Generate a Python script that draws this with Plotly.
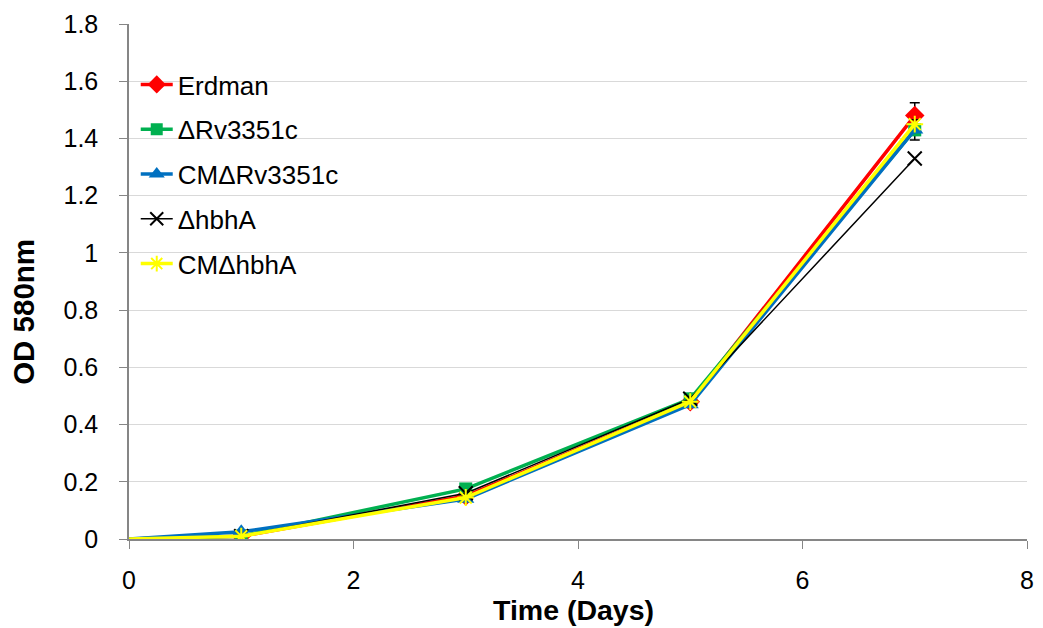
import plotly.graph_objects as go

days = [0, 1, 3, 5, 7]
names = ["Erdman", "ΔRv3351c", "CMΔRv3351c", "ΔhbhA", "CMΔhbhA"]
erdman = [0, 0.01, 0.15, 0.48, 1.48]
rv3351c = [0, 0.01, 0.175, 0.49, 1.43]
cm_rv3351c = [0, 0.025, 0.14, 0.47, 1.43]
hbha = [0, 0.01, 0.16, 0.49, 1.33]
cm_hbha = [0, 0.01, 0.145, 0.48, 1.45]
err_erdman = [0, 0, 0, 0, 0.045]
err_rv3351c = [0, 0, 0, 0, 0.035]

series = [erdman, rv3351c, cm_rv3351c, hbha, cm_hbha]
errs = [err_erdman, err_rv3351c, None, None, None]
colors = ["#ff0000", "#00b050", "#0070c0", "#000000", "#ffff00"]
symbols = ["diamond", "square", "triangle-up", "x-thin", "asterisk"]
msizes = [15, 13, 15, 14, 14]
lwidths = [3.5, 3.5, 3.5, 1.5, 3.5]

fig = go.Figure()
for i, (nm, ys) in enumerate(zip(names, series)):
    def mk(size):
        m = dict(symbol=symbols[i], size=size, color=colors[i], opacity=1)
        if symbols[i] in ("x-thin", "asterisk"):
            m["line"] = dict(color=colors[i], width=2)
        else:
            m["line"] = dict(color=colors[i], width=0)
        return m
    sizes = [0] + [msizes[i]] * (len(days) - 1)
    tr = dict(x=days, y=ys, name=nm, mode="lines+markers",
              line=dict(color=colors[i], width=lwidths[i]),
              marker=mk(sizes), legendgroup=str(i), showlegend=False)
    if errs[i] is not None:
        tr["error_y"] = dict(type="data", array=errs[i], visible=True,
                             color="#000000", thickness=1.5, width=5)
    fig.add_trace(go.Scatter(**tr))
    # legend entry
    fig.add_trace(go.Scatter(x=[None], y=[None], name=nm, mode="lines+markers",
                             line=dict(color=colors[i], width=lwidths[i]),
                             marker=mk(msizes[i] - 1), legendgroup=str(i),
                             showlegend=True))

W, H = 1043, 628
l, r, t, b = 129, 9, 24, 89
pw, ph = W - l - r, H - t - b

fig.update_layout(
    width=W, height=H,
    margin=dict(l=l, r=r, t=t, b=b),
    plot_bgcolor="white", paper_bgcolor="white",
    font=dict(family="Liberation Sans, Arial", size=25, color="#000000"),
    showlegend=True,
    legend=dict(x=0.0075, y=(H - b - 61) / ph, xanchor="left", yanchor="top",
                font=dict(family="Liberation Sans, Arial", size=26),
                bgcolor="rgba(0,0,0,0)", tracegroupgap=8, itemwidth=32),
    xaxis=dict(range=[0, 8], dtick=2, showgrid=False, showline=True,
               linecolor="#868686", linewidth=1.5, ticks="outside",
               tickcolor="#868686", ticklen=8, zeroline=False,
               ticklabelstandoff=10, tickfont=dict(size=25)),
    yaxis=dict(range=[0, 1.8], dtick=0.2, showgrid=True, gridcolor="#d9d9d9",
               showline=True, linecolor="#868686", linewidth=1.5,
               ticks="outside", tickcolor="#868686", ticklen=8, zeroline=False,
               ticklabelstandoff=16, tickfont=dict(size=25)),
    annotations=[
        dict(text="<b>Time (Days)</b>", x=(577 - l) / pw, y=(H - b - 610) / ph,
             xref="paper", yref="paper", xanchor="center", yanchor="middle",
             showarrow=False, font=dict(size=28.5)),
        dict(text="<b>OD 580nm</b>", textangle=-90, x=(22 - l) / pw,
             y=(H - b - 312) / ph, xref="paper", yref="paper",
             xanchor="center", yanchor="middle",
             showarrow=False, font=dict(size=29.5)),
    ],
)
fig.write_html("out.html")
